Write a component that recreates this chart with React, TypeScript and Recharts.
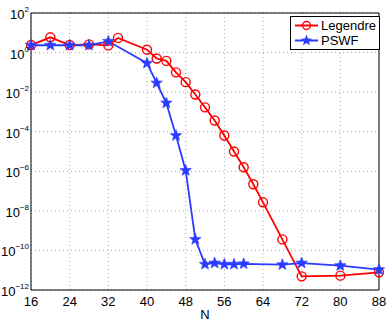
import { CartesianGrid, Line, LineChart, ReferenceArea, XAxis, YAxis } from 'recharts';

const legendreN = [16, 20, 24, 28, 32, 34, 40, 42, 44, 46, 48, 50, 52, 54, 56, 58, 60, 62, 64, 68, 72, 80, 88];
const legendreErr = [
  2.4, 5.9, 2.4, 2.6, 2.3, 5.5, 1.4, 0.5, 0.38, 0.1, 0.032, 0.0076, 1.7e-3, 3.7e-4, 6.4e-5, 1.0e-5, 1.6e-6,
  2.2e-7, 2.7e-8, 3.6e-10, 4.9e-12, 5.3e-12, 7.8e-12,
];
const pswfN = [16, 20, 24, 28, 32, 40, 42, 44, 46, 48, 50, 52, 54, 56, 58, 60, 68, 72, 80, 88];
const pswfErr = [
  2.35, 2.35, 2.35, 2.35, 3.7, 0.29, 0.029, 2.8e-3, 6.4e-5, 1.1e-6, 3.6e-10, 2e-11, 2.3e-11, 2e-11, 2e-11,
  2.1e-11, 1.9e-11, 2.3e-11, 1.7e-11, 1.07e-11,
];
const xTicks = [16, 24, 32, 40, 48, 56, 64, 72, 80, 88];
const yTicks = [1e-12, 1e-10, 1e-8, 1e-6, 1e-4, 1e-2, 1, 1e2];

const legendreData = legendreN.map((n, i) => ({ n, v: legendreErr[i] }));
const pswfData = pswfN.map((n, i) => ({ n, v: pswfErr[i] }));

const RED = '#ff0000';
const BLUE = '#2b3cff';
const FONT = '"Liberation Sans", Arial, sans-serif';

const starPoints = (cx: number, cy: number, r: number) => {
  const pts: string[] = [];
  for (let i = 0; i < 10; i++) {
    const rad = i % 2 === 0 ? r : r * 0.42;
    const a = -Math.PI / 2 + (i * Math.PI) / 5;
    pts.push(`${cx + rad * Math.cos(a)},${cy + rad * Math.sin(a)}`);
  }
  return pts.join(' ');
};

const CircleDot = ({ cx, cy, index }: any) => (
  <circle key={index} cx={cx} cy={cy} r={4.5} fill="none" stroke={RED} strokeWidth={1.4} />
);

const StarDot = ({ cx, cy, index }: any) => (
  <polygon key={index} points={starPoints(cx, cy, 6)} fill={BLUE} stroke={BLUE} strokeWidth={0.6} />
);

// y labels right-aligned just left of the frame
const LogTick = ({ y, payload }: any) => {
  const exp = Math.round(Math.log10(payload.value));
  return (
    <text x={29} y={y + 6} textAnchor="end" fontFamily={FONT} fontSize={13} fill="#000">
      <tspan>10</tspan>
      <tspan dy={-7} fontSize={8}>
        {exp < 0 ? `\u2212${-exp}` : `${exp}`}
      </tspan>
    </text>
  );
};

const LegendBox = () => (
  <svg width={90} height={34} style={{ display: 'block' }}>
    <rect x={0.5} y={0.5} width={89} height={33} fill="#fff" stroke="#000" strokeWidth={1} />
    <line x1={5} x2={28} y1={9.5} y2={9.5} stroke={RED} strokeWidth={2} />
    <circle cx={16.5} cy={9.5} r={4} fill="none" stroke={RED} strokeWidth={1.4} />
    <text x={31} y={14} fontFamily={FONT} fontSize={13} fill="#000">Legendre</text>
    <line x1={5} x2={28} y1={24.5} y2={24.5} stroke={BLUE} strokeWidth={2} />
    <polygon points={starPoints(16.5, 24.5, 6)} fill={BLUE} />
    <text x={31} y={29} fontFamily={FONT} fontSize={13} fill="#000">PSWF</text>
  </svg>
);

export default function App() {
  return (
    <div style={{ position: 'absolute', left: 0, top: 0, width: 390, height: 322, background: '#fff' }}>
      <LineChart width={390} height={322} margin={{ top: 13, right: 11, left: 0, bottom: 0 }}>
        <CartesianGrid stroke="#a8a8a8" strokeDasharray="1 3" />
        <XAxis
          dataKey="n"
          type="number"
          domain={[16, 88]}
          ticks={xTicks}
          allowDuplicatedCategory={false}
          height={32}
          tickLine={false}
          axisLine={false}
          tick={{ fontFamily: FONT, fontSize: 13, fill: '#000' }}
          tickMargin={1}
          label={{ value: 'N', position: 'insideBottom', offset: 3, fontFamily: FONT, fontSize: 13, fill: '#000' }}
        />
        <YAxis
          dataKey="v"
          scale="log"
          domain={[1e-12, 1e2]}
          ticks={yTicks}
          allowDataOverflow
          width={31}
          tickLine={false}
          axisLine={false}
          tick={<LogTick />}
        />
        <ReferenceArea x1={16} x2={88} y1={1e-12} y2={1e2} fill="none" stroke="#000" strokeWidth={1} ifOverflow="visible" />
        <Line
          data={legendreData}
          dataKey="v"
          name="Legendre"
          stroke={RED}
          strokeWidth={1.8}
          dot={<CircleDot />}
          isAnimationActive={false}
        />
        <Line
          data={pswfData}
          dataKey="v"
          name="PSWF"
          stroke={BLUE}
          strokeWidth={1.8}
          dot={<StarDot />}
          isAnimationActive={false}
        />
      </LineChart>
      <div style={{ position: 'absolute', left: 290, top: 16 }}>
        <LegendBox />
      </div>
    </div>
  );
}
